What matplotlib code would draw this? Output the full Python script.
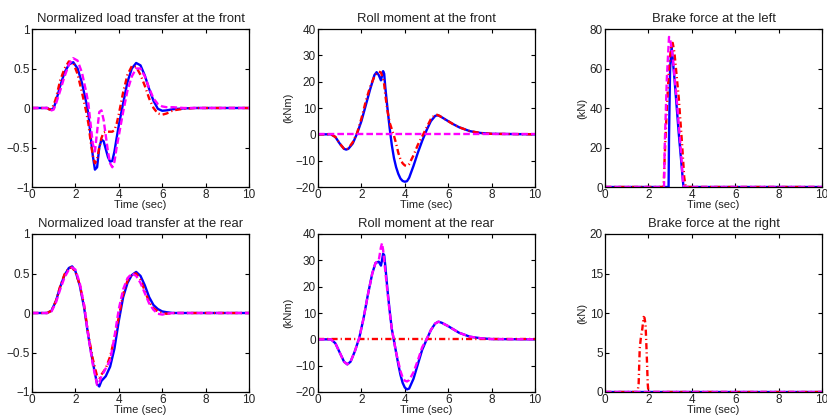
import matplotlib
matplotlib.use("Agg")
import matplotlib.pyplot as plt

plt.rcParams['font.family'] = ['Liberation Sans', 'DejaVu Sans']

# ---- front load transfer (normalized) ----
t_lt_f = [0, 0.5, 0.7, 0.8, 0.9, 1.0, 1.1, 1.3, 1.5, 1.7, 1.9, 2.1, 2.3, 2.5, 2.6, 2.7, 2.8, 2.9,
          3.0, 3.1, 3.2, 3.3, 3.4, 3.5, 3.6, 3.7, 3.8, 3.9, 4.0, 4.2, 4.4, 4.6, 4.8, 5.0, 5.2,
          5.4, 5.6, 5.8, 6.0, 6.2, 6.5, 7.0, 7.5, 8.0, 10.0]
lt_f_blue = [0, 0, 0, -0.015, -0.02, 0.0, 0.08, 0.28, 0.45, 0.55, 0.58, 0.5, 0.32, 0.07, -0.08,
             -0.35, -0.6, -0.78, -0.75, -0.5, -0.4, -0.42, -0.52, -0.62, -0.68, -0.67, -0.55,
             -0.38, -0.22, 0.06, 0.33, 0.5, 0.57, 0.54, 0.41, 0.24, 0.09, -0.01, -0.035, -0.03,
             -0.015, -0.005, 0, 0, 0]
lt_f_red = [0, 0, 0, -0.02, -0.01, 0.04, 0.12, 0.35, 0.5, 0.59, 0.57, 0.43, 0.2, -0.05, -0.2,
            -0.42, -0.6, -0.7, -0.65, -0.5, -0.38, -0.31, -0.3, -0.3, -0.3, -0.3, -0.28, -0.2,
            -0.08, 0.2, 0.42, 0.53, 0.52, 0.42, 0.28, 0.12, 0.0, -0.07, -0.085, -0.07, -0.03,
            -0.01, 0, 0, 0]
lt_f_mag = [0, 0, 0, -0.01, -0.03, -0.02, 0.05, 0.22, 0.4, 0.55, 0.63, 0.6, 0.45, 0.2, 0.05,
            -0.2, -0.45, -0.55, -0.3, -0.05, -0.03, -0.15, -0.35, -0.55, -0.7, -0.75, -0.68,
            -0.5, -0.35, -0.05, 0.22, 0.4, 0.5, 0.5, 0.4, 0.25, 0.12, 0.05, 0.02, 0.01, 0.01,
            0.0, 0, 0, 0]

# ---- front roll moment (kNm) ----
t_rm_f = [0, 0.6, 0.8, 1.0, 1.2, 1.3, 1.4, 1.6, 1.8, 2.0, 2.2, 2.4, 2.6, 2.7, 2.8, 2.9, 3.0,
          3.05, 3.1, 3.2, 3.3, 3.4, 3.5, 3.6, 3.7, 3.8, 3.9, 4.0, 4.1, 4.2, 4.4, 4.6, 4.8, 5.0,
          5.2, 5.4, 5.5, 5.6, 5.8, 6.0, 6.2, 6.5, 7.0, 7.5, 8.0, 10.0]
rm_f_blue = [0, 0, -1, -3.5, -5.5, -5.8, -5.5, -3.5, 0.3, 5, 11, 17, 22.5, 23.6, 22.5, 20.5, 24,
             23, 18, 10, 2.5, -4, -9, -12.5, -15, -16.8, -17.7, -18, -17.8, -16.5, -12, -7,
             -2.5, 1.5, 5, 7, 7.2, 7, 6, 5, 4, 2.7, 1.2, 0.5, 0.2, 0]
rm_f_red = [0, 0, -1, -3.5, -5.5, -5.8, -5.3, -3, 0.5, 6, 12.5, 18, 22, 23, 23.8, 23.5, 21, 19,
            15, 9, 4.5, 2, -0.5, -3.5, -7, -9.5, -11, -11.8, -12, -11.3, -8, -4, -0.8, 2.5,
            5.8, 7.5, 7.4, 7, 6, 5, 4, 2.7, 1.2, 0.5, 0.2, 0]
rm_f_mag = [0] * len(t_rm_f)

# ---- brake force left (kN) ----
t_bl_blue = [0, 2.93, 2.95, 3.0, 3.07, 3.2, 3.4, 3.6, 3.62, 10.0]
bl_blue = [0, 0, 25, 60, 71, 55, 27, 2, 0, 0]
t_bl_red = [0, 2.7, 2.75, 2.85, 2.95, 3.05, 3.12, 3.2, 3.4, 3.55, 3.65, 3.72, 10.0]
bl_red = [0, 0, 15, 40, 60, 72, 73, 68, 45, 22, 5, 0, 0]
t_bl_mag = [0, 2.72, 2.75, 2.85, 2.95, 3.0, 3.1, 3.3, 3.5, 3.6, 3.65, 10.0]
bl_mag = [0, 0, 20, 55, 76, 75, 68, 45, 18, 2, 0, 0]

# ---- rear load transfer (normalized) ----
t_lt_r = [0, 0.5, 0.7, 0.9, 1.1, 1.3, 1.5, 1.7, 1.85, 2.0, 2.2, 2.4, 2.6, 2.8, 3.0, 3.1, 3.2,
          3.4, 3.6, 3.8, 4.0, 4.2, 4.4, 4.6, 4.8, 5.0, 5.2, 5.4, 5.6, 5.8, 6.0, 6.2, 6.5, 10.0]
lt_r_blue = [0, 0, 0, 0.03, 0.15, 0.33, 0.48, 0.57, 0.59, 0.53, 0.35, 0.07, -0.3, -0.62, -0.9,
             -0.93, -0.86, -0.8, -0.68, -0.45, -0.1, 0.2, 0.38, 0.48, 0.52, 0.47, 0.35, 0.2,
             0.1, 0.05, 0.02, 0.01, 0, 0]
lt_r_red = [0, 0, 0, 0.03, 0.15, 0.34, 0.49, 0.57, 0.575, 0.52, 0.36, 0.1, -0.28, -0.58, -0.8,
            -0.82, -0.78, -0.7, -0.55, -0.32, -0.05, 0.24, 0.41, 0.49, 0.5, 0.42, 0.28, 0.14,
            0.06, 0.02, 0.0, -0.01, 0, 0]
lt_r_mag = [0, 0, 0, 0.02, 0.13, 0.3, 0.45, 0.55, 0.575, 0.55, 0.38, 0.1, -0.3, -0.65, -0.91,
            -0.88, -0.8, -0.7, -0.6, -0.3, 0.05, 0.3, 0.44, 0.5, 0.47, 0.38, 0.25, 0.12, 0.04,
            -0.01, -0.02, -0.01, 0, 0]

# ---- rear roll moment (kNm) ----
t_rm_r = [0, 0.6, 0.8, 1.0, 1.2, 1.35, 1.5, 1.7, 1.9, 2.1, 2.3, 2.5, 2.65, 2.8, 2.9, 2.95, 3.0,
          3.05, 3.1, 3.2, 3.3, 3.4, 3.5, 3.6, 3.7, 3.8, 3.9, 4.0, 4.1, 4.2, 4.4, 4.6, 4.8, 5.0,
          5.2, 5.4, 5.55, 5.7, 6.0, 6.5, 7.0, 7.5, 8.0, 10.0]
rm_r_blue = [0, 0, -1.5, -5, -8.5, -9.5, -8.5, -4.5, 0.5, 8, 17, 25, 29, 29.5, 28, 30, 32.5, 32,
             28, 19, 11, 4, -0.5, -5, -9.5, -13.5, -16.5, -18.3, -19, -18.7, -15, -9.5, -4,
             -0.2, 3.5, 6, 6.7, 6.3, 5, 2.5, 1, 0.4, 0.1, 0]
rm_r_red = [0] * len(t_rm_r)
rm_r_mag = [0, 0, -1.5, -5, -8.5, -9.5, -8.5, -4.5, 0.5, 8, 17, 25, 29, 30, 35, 36.5, 34, 30,
            26, 18, 10.5, 4, -0.5, -5, -8.5, -12, -14.5, -15.7, -16, -15.5, -12.5, -8, -3, 0,
            3.5, 6, 6.7, 6.3, 5, 2.5, 1, 0.4, 0.1, 0]

# ---- brake force right (kN) ----
t_br = [0, 10.0]
br_blue = [0, 0]
br_mag = [0, 0]
t_br_red = [0, 1.5, 1.55, 1.6, 1.65, 1.72, 1.78, 1.82, 1.87, 1.92, 1.97, 2.0, 10.0]
br_red = [0, 0, 1, 5.5, 6.8, 8, 9.5, 9.4, 8.5, 5, 1, 0, 0]

BLUE = '#0000ff'
RED = '#ff0000'
MAG = '#ff00ff'
TXT = '#222222'
LW = 1.7
red_ls = (0, (2.6, 1.3, 0.5, 1.3))
mag_ls = (0, (2.8, 1.3))

panels = [
    dict(title='Normalized load transfer at the front', ylim=(-1, 1), yticks=[-1, -0.5, 0, 0.5, 1],
         ylabel=None, lines=[(t_lt_f, lt_f_blue), (t_lt_f, lt_f_red), (t_lt_f, lt_f_mag)]),
    dict(title='Roll moment at the front', ylim=(-20, 40), yticks=[-20, -10, 0, 10, 20, 30, 40],
         ylabel='(kNm)', lines=[(t_rm_f, rm_f_blue), (t_rm_f, rm_f_red), (t_rm_f, rm_f_mag)]),
    dict(title='Brake force at the left', ylim=(0, 80), yticks=[0, 20, 40, 60, 80],
         ylabel='(kN)', lines=[(t_bl_blue, bl_blue), (t_bl_red, bl_red), (t_bl_mag, bl_mag)]),
    dict(title='Normalized load transfer at the rear', ylim=(-1, 1), yticks=[-1, -0.5, 0, 0.5, 1],
         ylabel=None, lines=[(t_lt_r, lt_r_blue), (t_lt_r, lt_r_red), (t_lt_r, lt_r_mag)]),
    dict(title='Roll moment at the rear', ylim=(-20, 40), yticks=[-20, -10, 0, 10, 20, 30, 40],
         ylabel='(kNm)', lines=[(t_rm_r, rm_r_blue), (t_rm_r, rm_r_red), (t_rm_r, rm_r_mag)]),
    dict(title='Brake force at the right', ylim=(0, 20), yticks=[0, 5, 10, 15, 20],
         ylabel='(kN)', lines=[(t_br, br_blue), (t_br_red, br_red), (t_br, br_mag)]),
]

fig = plt.figure(figsize=(8.28, 4.16), dpi=100)
lefts = [32 / 828, 318 / 828, 605 / 828]
bottoms = [1 - 187 / 416, 1 - 392 / 416]
w, h = 217 / 828, 158 / 416

for i, p in enumerate(panels):
    ax = fig.add_axes([lefts[i % 3], bottoms[i // 3], w, h])
    (tb, yb), (tr, yr), (tm, ym) = p['lines']
    ax.plot(tb, yb, color=BLUE, lw=LW, ls='-')
    ax.plot(tr, yr, color=RED, lw=LW, ls=red_ls)
    ax.plot(tm, ym, color=MAG, lw=LW, ls=mag_ls)
    ax.set_xlim(0, 10)
    ax.set_ylim(*p['ylim'])
    ax.set_xticks([0, 2, 4, 6, 8, 10])
    ax.set_yticks(p['yticks'])
    ax.set_yticklabels([('%g' % v).replace('-', '\u2212') for v in p['yticks']])
    ax.tick_params(direction='in', top=True, right=True, length=3, width=0.8,
                   labelsize=8.5, pad=1.5, labelcolor=TXT)
    for s in ax.spines.values():
        s.set_linewidth(0.9)
    ax.set_title(p['title'], fontsize=9.4, pad=5, color=TXT)
    ax.set_xlabel('Time (sec)', fontsize=8, labelpad=-1, color=TXT)
    if p['ylabel']:
        ax.set_ylabel(p['ylabel'], fontsize=8, labelpad=2, color=TXT)

fig.savefig('out.png', dpi=100)
